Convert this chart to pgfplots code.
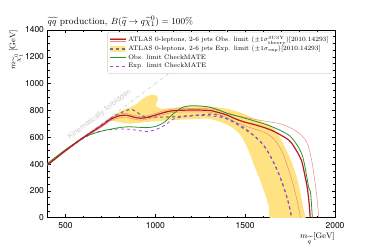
\documentclass[border=0pt]{standalone}
\usepackage{fontspec}
\setsansfont{TeX Gyre Heros}
\usepackage{pgfplots}
\pgfplotsset{compat=1.18}
\definecolor{cRed}{RGB}{190,25,35}
\definecolor{cPink}{RGB}{234,140,125}
\definecolor{cYel}{RGB}{255,226,130}
\definecolor{cGrey}{RGB}{110,115,135}
\definecolor{cGreen}{RGB}{40,150,40}
\definecolor{cPurp}{RGB}{155,70,230}
\begin{document}
\begin{tikzpicture}
\begin{axis}[
  at={(0,0)}, anchor=south west, scale only axis,
  width=287.5pt, height=187.7pt,
  xmin=400, xmax=2000, ymin=0, ymax=1400,
  xtick={500,1000,1500,2000}, minor x tick num=4,
  ytick={0,200,...,1400}, minor y tick num=3,
  tick align=inside, major tick length=3.5pt, minor tick length=2pt,
  tick style={black, line width=0.5pt},
  axis line style={line width=0.7pt},
  /pgf/number format/assume math mode=true,
  /pgf/number format/1000 sep={},
  tick label style={font=\fontsize{8.5}{10}\sffamily},
  xticklabel style={yshift=-1pt},
  legend style={at={(rel axis cs:0.992,0.99)}, anchor=north east,
    font=\fontsize{6.5}{8}\selectfont, draw=gray!35, fill=white,
    fill opacity=0.85, text opacity=1, rounded corners=2pt,
    row sep=-1.5pt, inner sep=2pt},
  legend cell align=left,
]
% band
\addplot[fill=cYel, draw=none, smooth, tension=0.35, forget plot] coordinates {
(740,730)(760,752)(800,790)(840,815)(870,830)(895,848)(920,875)(950,905)(985,918)(1008,910)(1016,890)(1008,860)(1003,838)(1015,822)(1040,812)(1100,820)(1200,832)(1300,830)(1400,812)(1450,795)(1500,770)(1550,740)(1600,712)(1640,690)(1680,630)(1720,530)(1760,410)(1790,290)(1810,170)(1822,80)(1832,-30)(1648,-30)(1632,80)(1610,180)(1580,290)(1550,390)(1525,480)(1495,570)(1465,630)(1425,675)(1380,705)(1300,738)(1200,735)(1100,728)(1000,720)(950,714)(900,706)(855,702)(800,712)(760,722)
} -- cycle;
% diagonal
\addplot[gray!45, dash dot, line width=0.5pt, forget plot] coordinates {(400,400)(1400,1400)};
\node[font=\fontsize{7.5}{9}\sffamily, text=gray!40, rotate=37.5] at (axis cs:690,768) {Kinematically forbidden};
% theory +-1 sigma
\addplot[cPink, line width=0.5pt, smooth, forget plot] coordinates {
(400,400)(500,505)(600,603)(700,695)(750,745)(800,772)(840,778)(880,764)(920,755)(960,762)(1000,778)(1050,798)(1100,810)(1200,815)(1300,812)(1350,800)(1400,782)(1450,762)(1500,748)(1550,735)(1600,722)(1650,712)(1700,698)(1750,672)(1800,630)(1830,590)(1850,540)(1870,430)(1885,300)(1897,180)(1910,0)};
\addplot[cPink, line width=0.5pt, smooth, forget plot] coordinates {
(400,390)(500,495)(600,593)(700,675)(750,722)(800,745)(840,750)(880,736)(920,728)(960,737)(1000,752)(1050,772)(1100,785)(1200,790)(1300,787)(1350,770)(1400,745)(1450,712)(1500,685)(1550,662)(1600,640)(1650,600)(1700,510)(1735,385)(1760,280)(1780,180)(1795,90)(1808,0)};
% ATLAS expected
\addplot[cGrey, dashed, line width=1.2pt, smooth, forget plot] coordinates {
(400,395)(500,502)(600,600)(700,690)(750,740)(800,778)(840,800)(865,808)(890,795)(920,765)(950,752)(1000,750)(1100,752)(1200,762)(1300,772)(1350,765)(1400,740)(1450,705)(1500,665)(1550,610)(1600,545)(1640,460)(1680,350)(1710,245)(1735,140)(1750,60)(1758,0)};
% CheckMATE expected
\addplot[cPurp, dashed, line width=0.8pt, smooth, forget plot] coordinates {
(400,395)(500,500)(600,592)(650,625)(700,648)(750,657)(800,662)(850,660)(900,652)(950,643)(1000,656)(1050,688)(1100,735)(1150,752)(1200,758)(1250,762)(1300,760)(1350,752)(1400,735)(1450,700)(1500,655)(1550,612)(1600,545)(1640,460)(1680,350)(1710,245)(1735,140)(1750,60)(1758,0)};
% CheckMATE observed
\addplot[cGreen, line width=0.8pt, smooth, forget plot] coordinates {
(400,405)(500,507)(600,597)(650,625)(700,645)(750,660)(800,672)(850,678)(900,675)(950,672)(1000,680)(1050,712)(1100,775)(1150,822)(1200,835)(1250,833)(1300,825)(1350,805)(1400,778)(1450,760)(1500,742)(1550,722)(1600,702)(1650,678)(1700,648)(1750,608)(1790,540)(1815,475)(1830,400)(1845,290)(1855,220)(1863,195)(1868,120)(1874,0)};
% ATLAS observed
\addplot[cRed, line width=1.2pt, smooth, forget plot] coordinates {
(400,393)(500,500)(600,598)(700,685)(750,733)(800,760)(840,765)(880,750)(920,742)(960,750)(1000,765)(1050,785)(1100,798)(1200,803)(1300,800)(1350,785)(1400,765)(1450,735)(1500,712)(1550,695)(1600,675)(1650,650)(1700,615)(1750,570)(1790,490)(1815,420)(1830,330)(1845,230)(1855,120)(1862,0)};
% legend
\addlegendimage{legend image code/.code={
  \draw[cPink, line width=0.5pt] (0cm,1.6pt) -- (0.55cm,1.6pt);
  \draw[cPink, line width=0.5pt] (0cm,-1.6pt) -- (0.55cm,-1.6pt);
  \draw[cRed, line width=1.2pt] (0cm,0pt) -- (0.55cm,0pt);}}
\addlegendentry{ATLAS 0-leptons, 2-6 jets Obs. limit ($\pm1\sigma^{\mathrm{SUSY}}_{\mathrm{theory}}$)[2010.14293]}
\addlegendimage{legend image code/.code={
  \fill[cYel] (0cm,-2.8pt) rectangle (0.55cm,2.8pt);
  \draw[cGrey, dashed, line width=1.2pt] (0cm,0pt) -- (0.55cm,0pt);}}
\addlegendentry{ATLAS 0-leptons, 2-6 jets Exp. limit ($\pm1\sigma_{\mathrm{exp}}$)[2010.14293]}
\addlegendimage{legend image code/.code={
  \draw[cGreen, line width=0.8pt] (0cm,0pt) -- (0.55cm,0pt);}}
\addlegendentry{Obs. limit CheckMATE}
\addlegendimage{legend image code/.code={
  \draw[cPurp, dashed, line width=0.8pt] (0cm,0pt) -- (0.55cm,0pt);}}
\addlegendentry{Exp. limit CheckMATE}
\end{axis}
\node[anchor=base west, font=\fontsize{9.5}{11}\selectfont, inner sep=0pt] at (0pt,193pt)
  {$\widetilde{q}\widetilde{q}$ production, $B(\widetilde{q}\to q\widetilde{\chi}_1^0)=100\%$};
\node[anchor=north east, font=\fontsize{8}{10}\selectfont, inner sep=0pt] at (287.5pt,-15pt)
  {$m_{\widetilde{q}}\,[\mathrm{GeV}]$};
\node[anchor=east, rotate=90, font=\fontsize{8}{10}\selectfont, inner sep=0pt] at (-31.5pt,187.7pt)
  {$m_{\widetilde{\chi}_1^0}\,[\mathrm{GeV}]$};
\pgfresetboundingbox
\path (-47.5pt,-31.3pt) rectangle (326.5pt,217.7pt);
\end{tikzpicture}
\end{document}
